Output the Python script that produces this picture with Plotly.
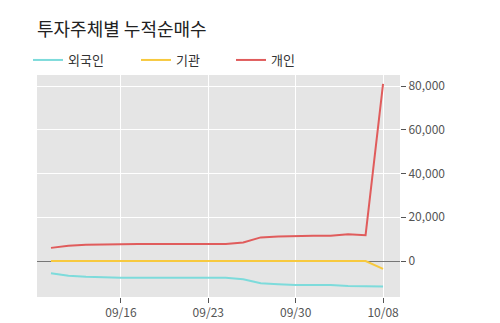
import plotly.graph_objects as go

dates = ["09/10","09/11","09/12","09/13","09/16","09/17","09/18","09/19","09/20","09/23",
         "09/24","09/25","09/26","09/27","09/30","10/01","10/02","10/04","10/07","10/08"]
foreign = [-5600,-6700,-7200,-7500,-7700,-7700,-7700,-7700,-7700,-7700,
           -7700,-8300,-10200,-10600,-11000,-11000,-11000,-11400,-11700,-11700]
inst = [0,0,0,0,0,0,0,0,0,0,0,0,0,0,0,0,0,0,0,-3600]
indiv = [6000,7000,7400,7600,7800,7800,7800,7800,7800,7800,
         7800,8500,10800,11200,11500,11600,11600,12200,11800,81000]
tick_dates = ["09/16","09/23","09/30","10/08"]
y_ticks = [0,20000,40000,60000,80000]

FONT = "Noto Sans CJK KR"
names = ["외국인", "기관", "개인"]
colors = ["#7ddbdb", "#f7c93e", "#e05c5c"]
series = [foreign, inst, indiv]
legend_ids = ["legend", "legend2", "legend3"]
legend_x = [28, 136, 231]

fig = go.Figure()
for nm, col, ys, lg in zip(names, colors, series, legend_ids):
    fig.add_trace(go.Scatter(x=dates, y=ys, name=nm, mode="lines", legend=lg,
                             line=dict(color=col, width=2)))

leg_common = dict(orientation="h", xref="container", yref="container",
                  xanchor="left", yanchor="middle", y=1-60/323,
                  font=dict(family=FONT, size=13, color="#333333"),
                  bgcolor="rgba(0,0,0,0)")
fig.update_layout(
    width=500, height=323,
    margin=dict(l=37, r=100, t=75, b=26, autoexpand=False),
    paper_bgcolor="white", plot_bgcolor="#e5e5e5",
    font=dict(family=FONT, size=12, color="#555555"),
    title=dict(text="투자주체별 누적순매수", x=37/500, xanchor="left",
               y=1-30/323, yanchor="middle",
               font=dict(family=FONT, size=18, color="#222222")),
    legend=dict(x=legend_x[0]/500, **leg_common),
    legend2=dict(x=legend_x[1]/500, **leg_common),
    legend3=dict(x=legend_x[2]/500, **leg_common),
    showlegend=True,
)
fig.update_xaxes(type="category", range=[-0.8, 19.97], tickmode="array",
                 tickvals=tick_dates, ticktext=tick_dates,
                 showgrid=True, gridcolor="white", gridwidth=1,
                 ticks="outside", ticklen=5, tickcolor="#555555",
                 tickfont=dict(size=12, color="#555555"), zeroline=False)
fig.update_yaxes(side="right", range=[-16457, 85029], tickmode="array",
                 tickvals=y_ticks, tickformat=",",
                 showgrid=True, gridcolor="white", gridwidth=1,
                 ticks="outside", ticklen=5, tickcolor="#555555",
                 tickfont=dict(size=12, color="#555555"),
                 zeroline=True, zerolinecolor="#777777", zerolinewidth=1)
fig.write_html("out.html")
